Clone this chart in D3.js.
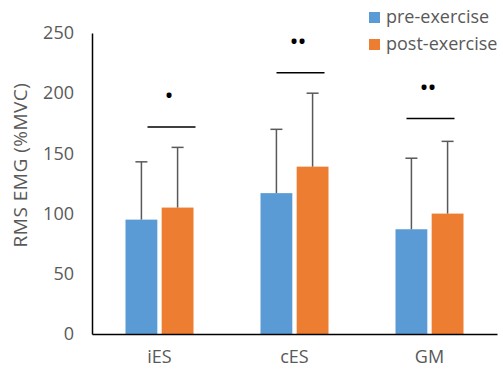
<!DOCTYPE html>
<html>
<head>
<meta charset="utf-8">
<script src="https://cdn.jsdelivr.net/npm/d3@7"></script>
<style>
  body { margin: 0; background: #fff; }
  text { font-family: "Open Sans", sans-serif; fill: #595959; }
</style>
</head>
<body>
<div id="chart"></div>
<script>
// Data
const categories = ["iES", "cES", "GM"];
const series = ["pre-exercise", "post-exercise"];
const preMeans = [95, 117, 87];
const postMeans = [105, 139, 100];
const preSD = [48, 53, 59];
const postSD = [50, 61, 60];
const yTicks = [0, 50, 100, 150, 200, 250];
// significance bars: level of the line and of the stars, in data units
const sigLine = [172, 217, 179];
const sigStar = [196, 241, 203];
const sigLabels = ["•", "••", "••"];

const colors = { "pre-exercise": "#5b9bd5", "post-exercise": "#ed7d31" };

const width = 503, height = 374;
const margin = { top: 33, right: 6, bottom: 40, left: 92 };
const innerW = width - margin.left - margin.right;
const innerH = height - margin.top - margin.bottom;

const svg = d3.select("#chart")
    .append("svg")
    .attr("width", width)
    .attr("height", height);

const g = svg.append("g")
    .attr("transform", `translate(${margin.left},${margin.top})`);

const x = d3.scaleBand()
    .domain(categories)
    .range([0, innerW]);

const xSub = d3.scaleBand()
    .domain(series)
    .range([x.bandwidth() / 2 - 34, x.bandwidth() / 2 + 34])
    .paddingInner(0.12);

const y = d3.scaleLinear()
    .domain([0, 250])
    .range([innerH, 0]);

const rows = categories.flatMap((c, i) => [
    { cat: c, s: series[0], v: preMeans[i], sd: preSD[i] },
    { cat: c, s: series[1], v: postMeans[i], sd: postSD[i] }
]);

// Y axis
g.append("g")
    .call(d3.axisLeft(y).tickValues(yTicks).tickSize(0).tickPadding(18))
    .call(a => a.select(".domain").attr("stroke", "#000").attr("stroke-width", 1.5))
    .selectAll("text")
    .style("font-size", "18px")
    .style("font-family", "Open Sans, sans-serif")
    .attr("fill", "#595959");

svg.append("text")
    .attr("text-anchor", "middle")
    .attr("transform", `translate(27, 165) rotate(-90)`)
    .style("font-size", "19px")
    .style("letter-spacing", "0.5px")
    .text("RMS EMG (%MVC)");

// Bars
g.append("g")
    .selectAll("rect")
    .data(rows)
    .join("rect")
    .attr("x", d => x(d.cat) + xSub(d.s))
    .attr("y", d => y(d.v))
    .attr("width", xSub.bandwidth())
    .attr("height", d => y(0) - y(d.v))
    .attr("fill", d => colors[d.s]);

// Error bars (upper only)
const err = g.append("g")
    .attr("stroke", "#595959")
    .attr("stroke-width", 1.5);

err.selectAll("line.v")
    .data(rows)
    .join("line")
    .attr("class", "v")
    .attr("x1", d => x(d.cat) + xSub(d.s) + xSub.bandwidth() / 2)
    .attr("x2", d => x(d.cat) + xSub(d.s) + xSub.bandwidth() / 2)
    .attr("y1", d => y(d.v))
    .attr("y2", d => y(d.v + d.sd));

err.selectAll("line.cap")
    .data(rows)
    .join("line")
    .attr("class", "cap")
    .attr("x1", d => x(d.cat) + xSub(d.s) + xSub.bandwidth() / 2 - 6)
    .attr("x2", d => x(d.cat) + xSub(d.s) + xSub.bandwidth() / 2 + 6)
    .attr("y1", d => y(d.v + d.sd))
    .attr("y2", d => y(d.v + d.sd));

// X axis baseline
g.append("g")
    .attr("transform", `translate(0,${innerH})`)
    .call(d3.axisBottom(x).tickSize(0).tickPadding(16))
    .call(a => a.select(".domain").attr("stroke", "#000").attr("stroke-width", 1.5))
    .selectAll("text")
    .style("font-size", "18px")
    .style("font-family", "Open Sans, sans-serif")
    .attr("fill", "#595959");

// Significance markers (hand placed in the source, offset from the group centre)
const sigShift = [12, 6, 1];
const sig = g.append("g");
sig.selectAll("line")
    .data(categories)
    .join("line")
    .attr("x1", (d, i) => x(d) + x.bandwidth() / 2 + sigShift[i] - 24)
    .attr("x2", (d, i) => x(d) + x.bandwidth() / 2 + sigShift[i] + 24)
    .attr("y1", (d, i) => y(sigLine[i]))
    .attr("y2", (d, i) => y(sigLine[i]))
    .attr("stroke", "#000")
    .attr("stroke-width", 1.5);

sig.selectAll("text")
    .data(categories)
    .join("text")
    .attr("x", (d, i) => x(d) + x.bandwidth() / 2 + sigShift[i] - 3)
    .attr("y", (d, i) => y(sigStar[i]))
    .attr("text-anchor", "middle")
    .attr("dominant-baseline", "middle")
    .style("font-size", "24px")
    .style("letter-spacing", "-1px")
    .style("fill", "#000")
    .text((d, i) => sigLabels[i]);

// Legend
const legend = svg.append("g")
    .attr("transform", "translate(369, 12)");

legend.selectAll("rect")
    .data(series)
    .join("rect")
    .attr("x", 0)
    .attr("y", (d, i) => i * 27)
    .attr("width", 11)
    .attr("height", 11)
    .attr("fill", d => colors[d]);

legend.selectAll("text")
    .data(series)
    .join("text")
    .attr("x", 17)
    .attr("y", (d, i) => i * 27 + 6)
    .attr("dominant-baseline", "middle")
    .style("font-size", "18px")
    .text(d => d);
</script>
</body>
</html>
